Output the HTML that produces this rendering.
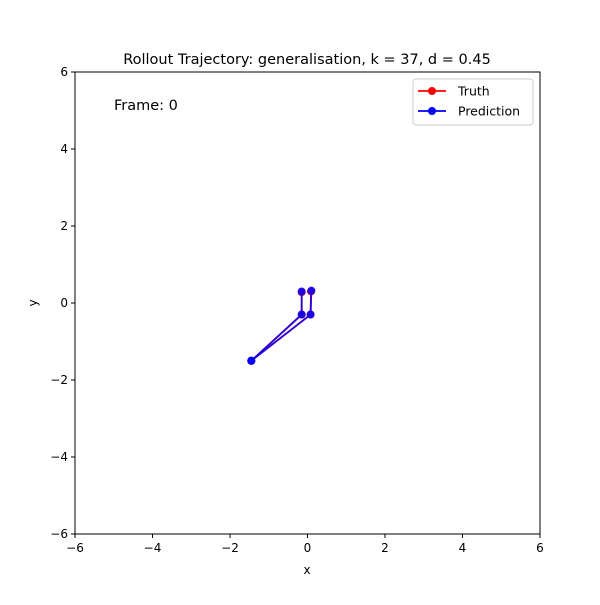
<!DOCTYPE html>
<html><head><meta charset="utf-8"><style>
body{margin:0;background:#fff;font-family:"Liberation Sans","DejaVu Sans",sans-serif}
</style></head><body>
<svg id="c" width="600" height="600" viewBox="0 0 600 600" font-family="DejaVu Sans, Liberation Sans, sans-serif">
<rect width="600" height="600" fill="#fff"/>
<g id="plot"></g>
</svg>
<script>
const ticks=[-6,-4,-2,0,2,4,6];
const truthX1=[-1.45,-0.15,-0.15];
const truthY1=[-1.5,-0.3,0.28];
const truthX2=[-1.45,0.08,0.09];
const truthY2=[-1.5,-0.3,0.3];
const predX1=[-1.45,-0.15,-0.15];
const predY1=[-1.5,-0.3,0.3];
const predX2=[-1.45,0.08,0.1];
const predY2=[-1.5,-0.3,0.32];
const L=75,R=540,T=72,B=534;
const sx=v=>L+(v+6)/12*(R-L), sy=v=>B-(v+6)/12*(B-T);
const g=document.getElementById('plot');const NS='http://www.w3.org/2000/svg';
function mk(t,a,p){const e=document.createElementNS(NS,t);for(const k in a)e.setAttribute(k,a[k]);(p||g).appendChild(e);return e;}
function txt(s,a){const e=mk('text',a);e.textContent=s;return e;}
ticks.forEach(v=>{
 const a=mk('line',{x1:sx(v),x2:sx(v),y1:B,y2:B+4,stroke:'#000'});
 
 const t=txt(String(v).replace('-','−'),{x:sx(v),y:B+18,'text-anchor':'middle','font-size':12});
 
 const b=mk('line',{x1:L-4,x2:L,y1:sy(v),y2:sy(v),stroke:'#000'});
 
 const u=txt(String(v).replace('-','−'),{x:L-7,y:sy(v)+4,'text-anchor':'end','font-size':12});
 
});
function series(xs,ys,col,op,name){
 const pl=mk('polyline',{points:xs.map((x,i)=>sx(x)+','+sy(ys[i])).join(' '),fill:'none',stroke:col,'stroke-width':1.8,opacity:op});
 
 xs.forEach((x,i)=>{const c=mk('circle',{cx:sx(x),cy:sy(ys[i]),r:4,fill:col,opacity:op});
 });
}
series(truthX1,truthY1,'#ff0000',1,'truth');
series(truthX2,truthY2,'#ff0000',1,'truth');
series(predX1,predY1,'#0000ff',0.85,'prediction');
series(predX2,predY2,'#0000ff',0.85,'prediction');
const fr=mk('rect',{x:L,y:T,width:R-L,height:B-T,fill:'none',stroke:'#000','stroke-width':1});

let t=txt('Rollout Trajectory: generalisation, k = 37, d = 0.45',{x:307,y:64,'text-anchor':'middle','font-size':14.5});

t=txt('x',{x:307,y:574,'text-anchor':'middle','font-size':12});

t=txt('y',{x:0,y:0,'text-anchor':'middle','font-size':12,transform:'translate(37,303) rotate(-90)'});

t=txt('Frame: 0',{x:114,y:110,'font-size':14.5});

const lg=mk('rect',{x:413,y:79,width:120,height:46,rx:3,fill:'#fff',stroke:'#ccc'});

[['Truth','#ff0000',91],['Prediction','#0000ff',111]].forEach(([n,c,y])=>{
 const l=mk('line',{x1:418,x2:446,y1:y,y2:y,stroke:c,'stroke-width':1.8});
 
 const d=mk('circle',{cx:432,cy:y,r:4,fill:c});
 
 const s=txt(n,{x:458,y:y+4.5,'font-size':12.5});
 
});
</script>
</body></html>
